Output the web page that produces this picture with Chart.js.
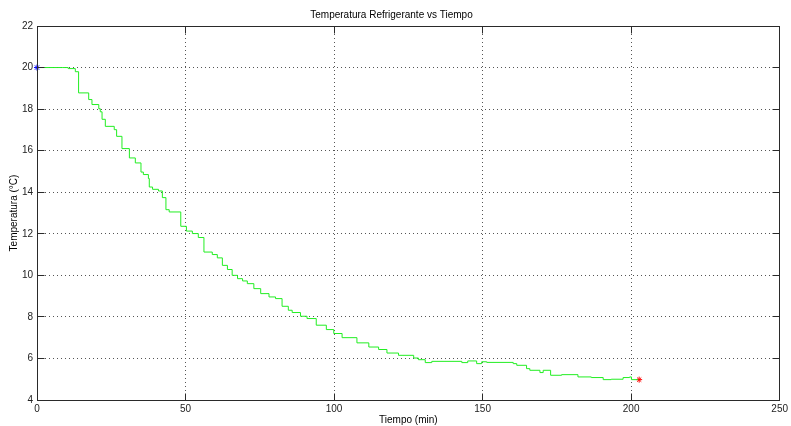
<!DOCTYPE html>
<html>
<head>
<meta charset="utf-8">
<title>Temperatura Refrigerante vs Tiempo</title>
<script src="https://cdn.jsdelivr.net/npm/chart.js@4.4.0/dist/chart.umd.min.js"></script>
<style>
  html, body { margin: 0; padding: 0; background: #fff; }
  #wrap { width: 791px; height: 426px; position: relative; }
</style>
</head>
<body>
<div id="wrap"><canvas id="tempChart"></canvas></div>
<script>
// datos
const tiempo = [0, 8.7, 10.5, 12.9, 14.0, 17.4, 18.5, 20.8, 21.3, 21.9, 23.0, 26.0, 26.8, 28.6, 31.1, 33.1, 35.0, 35.8,
  37.5, 37.8, 38.9, 40.9, 42.2, 43.4, 44.5, 48.4, 50.3, 52.3, 54.3, 56.2, 59.0, 60.7, 62.4, 64.1, 65.7, 67.5, 69.2,
  70.8, 73.0, 75.3, 78.1, 80.3, 82.5, 84.6, 85.9, 88.7, 90.9, 94.0, 97.4, 99.9, 102.7, 107.7, 111.7, 115.0, 117.8,
  121.7, 126.8, 128.4, 130.7, 132.9, 143.0, 145.0, 148.0, 149.7, 151.4, 160.3, 161.5, 164.8, 165.9, 169.3, 170.4,
  172.9, 176.6, 182.1, 186.6, 190.6, 193.3, 197.3, 199.5, 200.1, 202.3];
const temperatura = [20, 20, 19.95, 19.8, 18.78, 18.46, 18.22, 18.02, 17.87, 17.51, 17.17, 17.01, 16.69, 16.10, 15.65, 15.41, 14.97, 14.85,
  14.66, 14.25, 14.14, 14.06, 13.74, 13.16, 13.05, 12.36, 12.13, 12.01, 11.82, 11.12, 11.0, 10.84, 10.48, 10.28, 10.0, 9.84, 9.73,
  9.60, 9.36, 9.12, 8.96, 8.88, 8.51, 8.32, 8.21, 8.03, 7.92, 7.60, 7.39, 7.20, 7.00, 6.75, 6.55, 6.43, 6.26,
  6.15, 6.02, 5.94, 5.80, 5.86, 5.80, 5.88, 5.75, 5.84, 5.81, 5.75, 5.67, 5.51, 5.43, 5.32, 5.43,
  5.19, 5.22, 5.11, 5.08, 4.98, 5.0, 5.08, 5.11, 4.98, 4.98];
const puntoInicio = [{ x: 0, y: 20 }];
const puntoFinal = [{ x: 202.7, y: 4.98 }];
const xTicks = [0, 50, 100, 150, 200, 250];
const yTicks = [4, 6, 8, 10, 12, 14, 16, 18, 20, 22];

const fuente = "'Liberation Sans', Arial, sans-serif";

// mismo redondeo que usa chart.js para las lineas de la rejilla
const alinear = px => Math.round(px - 0.5) + 0.5;

// caja y marcas hacia dentro, estilo matlab
const cajaPlugin = {
  id: 'caja',
  afterDraw(chart) {
    const ctx = chart.ctx;
    const sx = chart.scales.x, sy = chart.scales.y;
    const izq = alinear(sx.getPixelForValue(0)), der = alinear(sx.getPixelForValue(250));
    const arr = alinear(sy.getPixelForValue(22)), abj = alinear(sy.getPixelForValue(4));
    const largo = 7;
    ctx.save();
    ctx.strokeStyle = '#2a2a2a';
    ctx.lineWidth = 1;
    ctx.strokeRect(izq, arr, der - izq, abj - arr);
    ctx.beginPath();
    xTicks.forEach(v => {
      const px = alinear(sx.getPixelForValue(v));
      ctx.moveTo(px, abj); ctx.lineTo(px, abj - largo);
      ctx.moveTo(px, arr); ctx.lineTo(px, arr + largo);
    });
    yTicks.forEach(v => {
      const py = alinear(sy.getPixelForValue(v));
      ctx.moveTo(izq, py); ctx.lineTo(izq + largo, py);
      ctx.moveTo(der, py); ctx.lineTo(der - largo, py);
    });
    ctx.stroke();
    ctx.restore();
  }
};

const ctx = document.getElementById('tempChart');
new Chart(ctx, {
  type: 'line',
  data: {
    datasets: [
      {
        data: tiempo.map((t, i) => ({ x: t, y: temperatura[i] })),
        borderColor: '#22ee22',
        borderWidth: 1,
        stepped: 'before',
        pointRadius: 0,
        fill: false
      },
      {
        data: puntoInicio,
        showLine: false,
        clip: false,
        pointStyle: 'star',
        pointRadius: 3,
        borderColor: '#0000ff',
        backgroundColor: '#0000ff',
        borderWidth: 1
      },
      {
        data: puntoFinal,
        showLine: false,
        clip: false,
        pointStyle: 'star',
        pointRadius: 3,
        borderColor: '#ff0000',
        backgroundColor: '#ff0000',
        borderWidth: 1
      }
    ]
  },
  options: {
    responsive: true,
    maintainAspectRatio: false,
    animation: false,
    layout: { padding: { top: 0, right: 8, left: 0, bottom: 0 } },
    plugins: {
      legend: { display: false },
      tooltip: { enabled: false },
      title: {
        display: true,
        text: 'Temperatura Refrigerante vs Tiempo',
        color: '#000',
        font: { family: fuente, size: 10, weight: 'normal' },
        padding: { top: 9, bottom: 5 }
      }
    },
    scales: {
      x: {
        type: 'linear',
        min: 0,
        max: 250,
        afterBuildTicks: s => { s.ticks = xTicks.map(v => ({ value: v })); },
        afterFit: s => { s.height = 26; },
        grid: { color: '#555', drawTicks: false, lineWidth: 1 },
        border: { display: false, dash: [1, 3] },
        ticks: { color: '#222', padding: 3, font: { family: fuente, size: 10 }, maxRotation: 0 },
        title: {
          display: true,
          text: 'Tiempo (min)',
          color: '#000',
          font: { family: fuente, size: 10 },
          padding: { top: 0, bottom: 0 }
        }
      },
      y: {
        type: 'linear',
        min: 4,
        max: 22,
        afterBuildTicks: s => { s.ticks = yTicks.map(v => ({ value: v })); },
        afterFit: s => { s.width = 37; },
        grid: { color: '#555', drawTicks: false, lineWidth: 1 },
        border: { display: false, dash: [1, 3] },
        ticks: { color: '#222', padding: 4, font: { family: fuente, size: 10 } },
        title: {
          display: true,
          text: 'Temperatura (°C)',
          color: '#000',
          font: { family: fuente, size: 10 },
          padding: { top: 8, bottom: 0 }
        }
      }
    }
  },
  plugins: [cajaPlugin]
});
</script>
</body>
</html>
